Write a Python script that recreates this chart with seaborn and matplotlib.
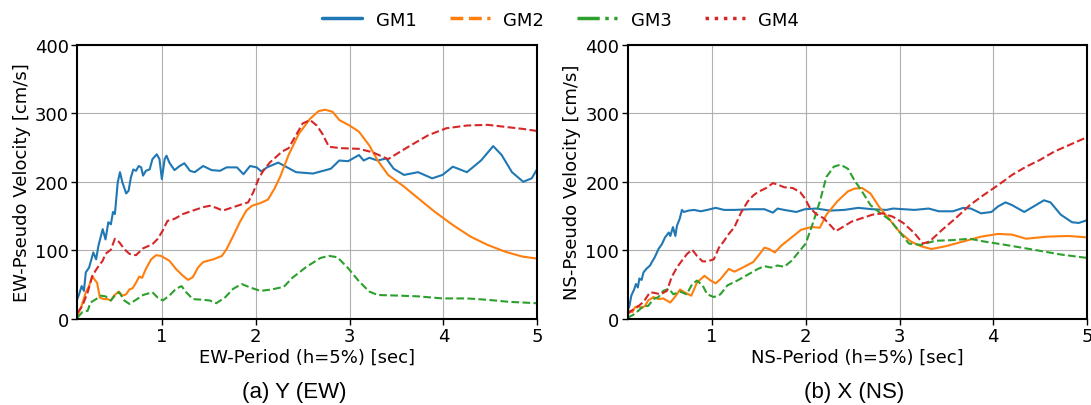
import pandas as pd
import matplotlib
matplotlib.use("Agg")
import matplotlib.pyplot as plt
from matplotlib.lines import Line2D
import seaborn as sns

# -------------------------------
# Data
# -------------------------------
# EW direction
ew_gm1_t = [0.1, 0.118, 0.146, 0.17, 0.19, 0.225, 0.27, 0.30, 0.325, 0.37, 0.40, 0.43, 0.457, 0.48, 0.5,
            0.53, 0.554, 0.58, 0.62, 0.646, 0.67, 0.696, 0.725, 0.754, 0.78, 0.80, 0.83, 0.87, 0.90, 0.946,
            0.975, 1.0, 1.03, 1.05, 1.08, 1.135, 1.19, 1.24, 1.30, 1.35, 1.44, 1.53, 1.62, 1.69, 1.80, 1.87,
            1.94, 2.01, 2.06, 2.12, 2.24, 2.43, 2.61, 2.80, 2.89, 2.985, 3.10, 3.15, 3.21, 3.30, 3.39, 3.47,
            3.58, 3.73, 3.88, 3.99, 4.10, 4.25, 4.40, 4.53, 4.62, 4.73, 4.85, 4.94, 5.0]
ew_gm1_v = [29, 36, 48, 41, 68, 75, 97, 87, 107, 131, 116, 141, 138, 156, 153,
            199, 214, 199, 183, 187, 206, 218, 216, 223, 221, 209, 216, 218, 233, 240,
            233, 204, 233, 238, 228, 217, 223, 227, 216, 214, 223, 217, 216, 221, 221, 211,
            223, 221, 215, 221, 228, 214, 212, 219, 231, 230, 239, 231, 235, 231, 234, 219,
            210, 214, 205, 210, 222, 214, 231, 252, 239, 214, 200, 205, 219]

ew_gm2_t = [0.1, 0.14, 0.19, 0.225, 0.26, 0.28, 0.31, 0.34, 0.385, 0.42, 0.457, 0.49, 0.54, 0.58, 0.62,
            0.654, 0.69, 0.725, 0.76, 0.79, 0.83, 0.886, 0.94, 0.99, 1.08, 1.15, 1.225, 1.28, 1.33, 1.385,
            1.44, 1.55, 1.64, 1.69, 1.76, 1.83, 1.90, 1.96, 2.05, 2.13, 2.20, 2.26, 2.35, 2.46, 2.58,
            2.67, 2.74, 2.82, 2.89, 3.0, 3.10, 3.21, 3.30, 3.41, 3.58, 3.73, 3.91, 4.10, 4.29, 4.47,
            4.66, 4.84, 5.0]
ew_gm2_v = [5, 17, 39, 48, 63, 58, 53, 31, 29, 29, 27, 34, 40, 34, 36,
            43, 45, 53, 62, 60, 73, 87, 93, 92, 85, 73, 63, 57, 61, 75,
            83, 87, 92, 102, 121, 141, 158, 165, 169, 174, 190, 207, 239, 270, 292,
            303, 305, 302, 290, 282, 273, 253, 231, 210, 193, 176, 156, 137, 120, 108,
            98, 91, 88]

ew_gm3_t = [0.1, 0.153, 0.21, 0.24, 0.30, 0.35, 0.40, 0.457, 0.51, 0.546, 0.6, 0.654, 0.725, 0.80, 0.90,
            0.957, 1.01, 1.08, 1.15, 1.21, 1.26, 1.33, 1.44, 1.51, 1.58, 1.67, 1.76, 1.85, 1.94, 2.05,
            2.17, 2.30, 2.39, 2.54, 2.69, 2.78, 2.87, 2.985, 3.10, 3.21, 3.30, 3.54, 3.73, 3.99, 4.25,
            4.47, 4.70, 5.0]
ew_gm3_v = [2, 10, 12, 24, 29, 34, 33, 27, 36, 39, 27, 22, 28, 35, 39,
            31, 27, 34, 44, 48, 39, 29, 28, 27, 23, 31, 44, 51, 46, 41,
            43, 47, 60, 76, 89, 92, 90, 74, 55, 40, 35, 34, 33, 30, 30,
            28, 25, 23]

ew_gm4_t = [0.1, 0.153, 0.21, 0.26, 0.31, 0.37, 0.40, 0.457, 0.50, 0.546, 0.6, 0.654, 0.725, 0.80, 0.90,
            0.957, 1.01, 1.06, 1.135, 1.225, 1.33, 1.44, 1.51, 1.58, 1.65, 1.76, 1.87, 1.92, 1.975, 2.03,
            2.08, 2.15, 2.20, 2.28, 2.35, 2.43, 2.50, 2.58, 2.65, 2.71, 2.78, 2.91, 3.10, 3.245, 3.36,
            3.41, 3.505, 3.65, 3.84, 4.03, 4.25, 4.47, 4.66, 4.85, 5.0]
ew_gm4_v = [9, 19, 39, 63, 74, 85, 95, 101, 117, 112, 102, 95, 93, 103, 109,
            117, 129, 143, 146, 153, 158, 163, 165, 162, 158, 163, 168, 170, 185, 204,
            216, 228, 234, 244, 249, 268, 285, 290, 282, 270, 251, 249, 248, 243, 236,
            233, 241, 253, 268, 278, 282, 283, 280, 277, 274]

# NS direction
ns_gm1_t = [0.1, 0.12, 0.14, 0.17, 0.19, 0.21, 0.226, 0.25, 0.27, 0.30, 0.34, 0.36, 0.39, 0.43, 0.466,
            0.50, 0.54, 0.556, 0.584, 0.61, 0.627, 0.656, 0.68, 0.70, 0.75, 0.81, 0.88, 0.95, 1.04, 1.13,
            1.24, 1.42, 1.56, 1.65, 1.70, 1.77, 1.90, 1.99, 2.11, 2.26, 2.41, 2.56, 2.71, 2.86, 2.93,
            3.16, 3.31, 3.42, 3.57, 3.68, 3.76, 3.87, 3.98, 4.05, 4.13, 4.20, 4.33, 4.43, 4.54, 4.61,
            4.72, 4.84, 4.91, 5.0]
ns_gm1_v = [12, 19, 34, 43, 51, 46, 59, 57, 68, 73, 78, 83, 90, 102, 109,
            119, 126, 121, 134, 121, 136, 146, 159, 156, 158, 159, 157, 159, 162, 159,
            159, 160, 160, 155, 161, 159, 156, 160, 161, 158, 159, 162, 160, 159, 161,
            159, 161, 157, 157, 162, 161, 154, 156, 164, 170, 166, 156, 164, 173, 170,
            152, 141, 140, 144]

ns_gm2_t = [0.1, 0.125, 0.15, 0.18, 0.215, 0.25, 0.287, 0.32, 0.376, 0.43, 0.48, 0.556, 0.61, 0.66, 0.72,
            0.78, 0.84, 0.92, 0.986, 1.04, 1.09, 1.18, 1.24, 1.30, 1.37, 1.44, 1.51, 1.56, 1.61, 1.67,
            1.74, 1.85, 1.95, 2.03, 2.07, 2.15, 2.22, 2.34, 2.45, 2.52, 2.60, 2.69, 2.78, 2.90, 3.0,
            3.12, 3.23, 3.34, 3.49, 3.68, 3.87, 4.05, 4.20, 4.35, 4.57, 4.80, 5.0]
ns_gm2_v = [9, 12, 10, 17, 19, 16, 19, 27, 32, 29, 30, 24, 33, 43, 38,
            34, 53, 63, 56, 52, 58, 73, 69, 73, 78, 83, 95, 104, 102, 97,
            107, 119, 130, 133, 134, 133, 152, 172, 186, 190, 191, 183, 164, 144, 127,
            113, 106, 102, 106, 113, 120, 124, 123, 117, 120, 121, 119]

ns_gm3_t = [0.1, 0.16, 0.215, 0.27, 0.32, 0.376, 0.43, 0.48, 0.54, 0.59, 0.66, 0.73, 0.79, 0.84, 0.90,
            0.95, 1.02, 1.09, 1.165, 1.27, 1.40, 1.49, 1.56, 1.63, 1.70, 1.77, 1.85, 1.94, 2.0, 2.07,
            2.15, 2.22, 2.30, 2.37, 2.45, 2.52, 2.60, 2.69, 2.78, 2.90, 3.0, 3.10, 3.23, 3.38, 3.57,
            3.75, 3.90, 4.13, 4.43, 4.72, 5.0]
ns_gm3_v = [2, 6, 12, 19, 19, 29, 32, 41, 44, 36, 40, 36, 51, 56, 49,
            36, 32, 36, 49, 56, 66, 73, 77, 75, 78, 76, 85, 100, 110, 137,
            171, 207, 222, 225, 219, 202, 186, 166, 156, 144, 127, 110, 108, 114, 115,
            117, 113, 108, 101, 94, 89]

ns_gm4_t = [0.1, 0.14, 0.20, 0.27, 0.34, 0.39, 0.45, 0.52, 0.57, 0.63, 0.68, 0.735, 0.79, 0.84, 0.90,
            0.95, 1.02, 1.075, 1.13, 1.18, 1.24, 1.31, 1.38, 1.44, 1.49, 1.58, 1.65, 1.70, 1.77, 1.86,
            1.94, 1.99, 2.04, 2.11, 2.19, 2.26, 2.32, 2.37, 2.49, 2.60, 2.71, 2.82, 2.93, 3.04, 3.16,
            3.25, 3.32, 3.455, 3.60, 3.75, 3.90, 4.05, 4.20, 4.35, 4.50, 4.65, 4.80, 5.0]
ns_gm4_v = [7, 12, 17, 25, 39, 38, 36, 41, 61, 76, 85, 95, 101, 92, 84,
            84, 87, 104, 114, 124, 134, 155, 171, 180, 185, 191, 198, 196, 192, 191,
            185, 176, 163, 153, 147, 137, 128, 132, 142, 147, 152, 154, 149, 140, 125,
            110, 113, 130, 147, 166, 181, 195, 210, 222, 232, 244, 253, 265]

series = ["GM1", "GM2", "GM3", "GM4"]
colors = ["#1f77b4", "#ff7f0e", "#2ca02c", "#d62728"]
plot_styles = ["-", "-", "--", "--"]
legend_styles = ["-", "--", "-.", ":"]

ew = [(ew_gm1_t, ew_gm1_v), (ew_gm2_t, ew_gm2_v), (ew_gm3_t, ew_gm3_v), (ew_gm4_t, ew_gm4_v)]
ns = [(ns_gm1_t, ns_gm1_v), (ns_gm2_t, ns_gm2_v), (ns_gm3_t, ns_gm3_v), (ns_gm4_t, ns_gm4_v)]

# -------------------------------
# Plot
# -------------------------------
sns.set_style("ticks", {"axes.grid": True, "grid.color": "#b0b0b0", "axes.edgecolor": "black",
                        "text.color": "black", "axes.labelcolor": "black",
                        "xtick.color": "black", "ytick.color": "black"})
plt.rcParams["font.family"] = ["DejaVu Sans"]
plt.rcParams["font.size"] = 13

fig = plt.figure(figsize=(10.91, 4.06), dpi=100)
ax1 = fig.add_axes([0.0709, 0.2118, 0.4216, 0.676])
ax2 = fig.add_axes([0.5752, 0.2118, 0.4212, 0.676])

panels = [(ax1, ew, "EW"), (ax2, ns, "NS")]
for ax, data, d in panels:
    for (t, v), name, c, ls in zip(data, series, colors, plot_styles):
        df = pd.DataFrame({"Period": t, "PSV": v})
        sns.lineplot(data=df, x="Period", y="PSV", ax=ax, color=c, linestyle=ls, lw=1.5)
    ax.set_xlim(0.1, 5)
    ax.set_ylim(0, 400)
    ax.set_xticks([1, 2, 3, 4, 5])
    ax.set_yticks([0, 100, 200, 300, 400])
    ax.tick_params(labelsize=13, length=4, width=1, pad=2, colors="black")
    ax.grid(True, color="#b0b0b0", lw=0.8)
    for s in ax.spines.values():
        s.set_linewidth(1.5)
        s.set_color("black")
    ax.set_xlabel(f"{d}-Period (h=5%) [sec]", fontsize=13, labelpad=2, color="black")
    ax.set_ylabel(f"{d}-Pseudo Velocity [cm/s]", fontsize=13, labelpad=3, color="black")

fig.text(294 / 1091, 1 - 393 / 406, "(a) Y (EW)", ha="center", va="center",
         fontsize=16, family="Liberation Sans", color="black")
fig.text(854 / 1091, 1 - 393 / 406, "(b) X (NS)", ha="center", va="center",
         fontsize=16, family="Liberation Sans", color="black")

handles = [Line2D([], [], color=c, linestyle=ls, lw=2.5) for c, ls in zip(colors, legend_styles)]
leg = fig.legend(handles, series, loc="center", bbox_to_anchor=(0.514, 1 - 20.5 / 406), ncol=4,
                 frameon=False, fontsize=13, handlelength=2.2, handletextpad=0.75, columnspacing=1.85)
for txt in leg.get_texts():
    txt.set_color("black")

fig.savefig("out.png", dpi=100)
